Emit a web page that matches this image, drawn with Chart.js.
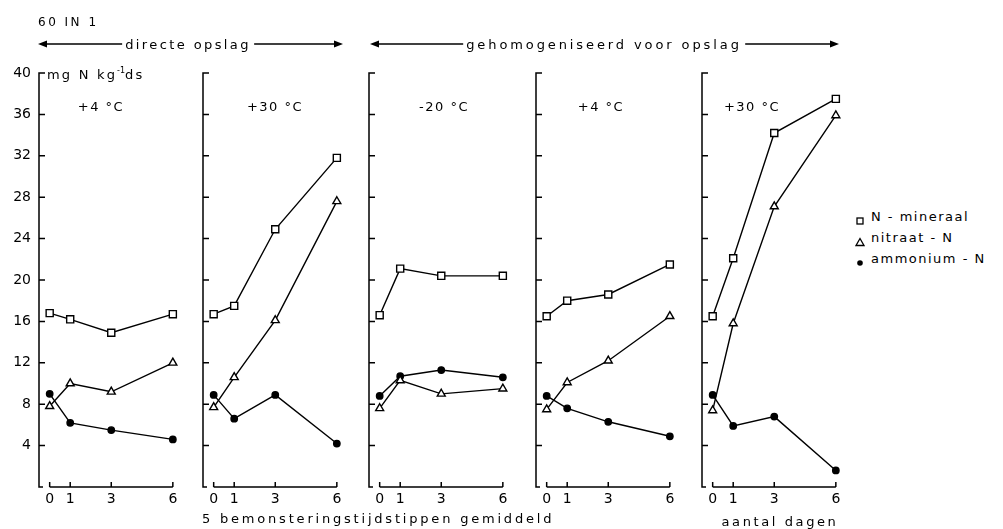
<!DOCTYPE html>
<html>
<head>
<meta charset="utf-8">
<script src="https://cdn.jsdelivr.net/npm/chart.js@4.4.0/dist/chart.umd.min.js"></script>
<style>
  html, body { margin: 0; padding: 0; background: #fff; }
  #wrap { position: relative; width: 1003px; height: 529px; overflow: hidden;
          font-family: 'DejaVu Sans', sans-serif; color: #000; }
  #wrap canvas { position: absolute; top: 0; }
  #wrap svg { position: absolute; left: 0; top: 0; }
  .lbl { position: absolute; white-space: nowrap; font-size: 13px; line-height: 1; letter-spacing: 2.5px; }
  .lbl sup { font-size: 8px; letter-spacing: 0; }
  .lbl svg { position: static; display: block; }
  .bg { background: #fff; padding: 0 3px; }
</style>
</head>
<body>
<div id="wrap">
  <svg width="1003" height="529">
    <g stroke="#000" stroke-width="1.5" fill="#000">
      <line x1="42" y1="44" x2="338" y2="44"/>
      <polygon points="38,44 47,40.5 47,47.5" stroke="none"/>
      <polygon points="343,44 334,40.5 334,47.5" stroke="none"/>
      <line x1="374" y1="44" x2="834" y2="44"/>
      <polygon points="370,44 379,40.5 379,47.5" stroke="none"/>
      <polygon points="839,44 830,40.5 830,47.5" stroke="none"/>
    </g>
  </svg>
</div>
<script>
// days after sampling (x ticks of every panel)
var days = [0, 1, 3, 6];
var yTicks = [4, 8, 12, 16, 20, 24, 28, 32, 36, 40];
var panelTitles = ['+4 °C', '+30 °C', '-20 °C', '+4 °C', '+30 °C'];
var seriesNames = ['N - mineraal', 'nitraat - N', 'ammonium - N'];

// mg N per kg ds, one row per panel
var nMineraal = [
    [16.8, 16.2, 14.9, 16.7],
    [16.7, 17.5, 24.9, 31.8],
    [16.6, 21.1, 20.4, 20.4],
    [16.5, 18.0, 18.6, 21.5],
    [16.5, 22.1, 34.2, 37.5]
];
var nitraatN = [
    [7.8, 10.0, 9.2, 12.0],
    [7.7, 10.6, 16.1, 27.6],
    [7.6, 10.3, 9.0, 9.5],
    [7.5, 10.1, 12.2, 16.5],
    [7.4, 15.8, 27.1, 35.9]
];
var ammoniumN = [
    [9.0, 6.2, 5.5, 4.6],
    [8.9, 6.6, 8.9, 4.2],
    [8.8, 10.7, 11.3, 10.6],
    [8.8, 7.6, 6.3, 4.9],
    [8.9, 5.9, 6.8, 1.6]
];

// where each panel's y axis sits
var panelAxisX = [39, 203, 369, 536, 702];
var yAxisWidth = 39;

Chart.defaults.font.family = "'DejaVu Sans', sans-serif";
Chart.defaults.font.size = 14;
Chart.defaults.color = '#000';

var wrap = document.getElementById('wrap');

function addLabel(html, x, y, align, cls) {
    var d = document.createElement('div');
    d.className = 'lbl' + (cls ? ' ' + cls : '');
    d.innerHTML = html;
    d.style.left = x + 'px';
    d.style.top = y + 'px';
    d.style.transform = align === 'center' ? 'translate(-50%,-50%)' : 'translate(0,-50%)';
    wrap.appendChild(d);
    return d;
}

// axis lines drawn by hand: inward ticks, baseline only from day 0 to 6
var frame = {
    id: 'frame',
    beforeDatasetsDraw: function(chart) {
        var ctx = chart.ctx;
        var x = chart.scales.x, y = chart.scales.y;
        var left = chart.chartArea.left;
        var bottom = y.getPixelForValue(0), top = y.getPixelForValue(40);
        ctx.save();
        ctx.strokeStyle = '#000';
        ctx.lineWidth = 1.5;
        ctx.beginPath();
        ctx.moveTo(left + 6, top);
        ctx.lineTo(left, top);
        ctx.lineTo(left, bottom);
        ctx.lineTo(left + 4, bottom);
        yTicks.forEach(function(v) {
            if (v >= 40) return;
            var py = y.getPixelForValue(v);
            ctx.moveTo(left, py);
            ctx.lineTo(left + 6, py);
        });
        ctx.moveTo(x.getPixelForValue(days[0]), bottom);
        ctx.lineTo(x.getPixelForValue(days[days.length - 1]), bottom);
        days.forEach(function(d) {
            var px = x.getPixelForValue(d);
            ctx.moveTo(px, bottom);
            ctx.lineTo(px, bottom - 5);
        });
        ctx.stroke();
        ctx.restore();
    }
};

function series(values, style, radius, fill) {
    return {
        data: days.map(function(d, k) { return { x: d, y: values[k] }; }),
        borderColor: '#000',
        borderWidth: 1.4,
        pointStyle: style,
        pointRadius: radius,
        pointBackgroundColor: fill,
        pointBorderColor: '#000',
        pointBorderWidth: 1.4,
        tension: 0,
        fill: false,
        clip: false
    };
}

panelAxisX.forEach(function(ax, i) {
    var cv = document.createElement('canvas');
    cv.width = 189;
    cv.height = 529;
    cv.style.left = (ax - yAxisWidth) + 'px';
    wrap.appendChild(cv);

    new Chart(cv, {
        type: 'line',
        data: {
            datasets: [
                series(nMineraal[i], 'rect', 5, '#fff'),
                series(nitraatN[i], 'triangle', 4.6, '#fff'),
                series(ammoniumN[i], 'circle', 3.2, '#000')
            ]
        },
        options: {
            responsive: false,
            animation: false,
            events: [],
            layout: { autoPadding: false, padding: { top: 73, right: 10, left: 0, bottom: 0 } },
            plugins: { legend: { display: false }, tooltip: { enabled: false } },
            scales: {
                x: {
                    type: 'linear',
                    min: -0.52,
                    max: 6.3,
                    grid: { display: false, drawTicks: false },
                    border: { display: false },
                    afterBuildTicks: function(s) { s.ticks = days.map(function(v) { return { value: v }; }); },
                    afterFit: function(s) { s.height = 42; },
                    ticks: { padding: 4, maxRotation: 0, autoSkip: false }
                },
                y: {
                    min: 0,
                    max: 40,
                    grid: { display: false, drawTicks: false },
                    border: { display: false },
                    afterBuildTicks: function(s) { s.ticks = yTicks.map(function(v) { return { value: v }; }); },
                    afterFit: function(s) { s.width = yAxisWidth; },
                    ticks: { display: i === 0, padding: 8 }
                }
            }
        },
        plugins: [frame]
    });

    addLabel(panelTitles[i], [101, 275, 444, 601, 752][i], 106, 'center').style.letterSpacing = '1.5px';
});

// headings and axis captions
var l = addLabel('60 IN 1', 38, 22, 'left');
l.style.fontSize = '12px';
addLabel('directe opslag', 188, 44, 'center', 'bg').style.letterSpacing = '2.4px';
addLabel('gehomogeniseerd voor opslag', 604, 44, 'center', 'bg').style.letterSpacing = '2.9px';
addLabel('mg N kg<sup>-1</sup>ds', 47, 74, 'left').style.letterSpacing = '2.2px';
addLabel('5 bemonsteringstijdstippen gemiddeld', 202, 518, 'left').style.letterSpacing = '2.8px';
addLabel('aantal dagen', 780, 521, 'center').style.letterSpacing = '2.6px';

// legend
var legendMarks = [
    '<svg width="10" height="10"><rect x="2" y="2" width="6" height="6" fill="#fff" stroke="#000" stroke-width="1.3"/></svg>',
    '<svg width="10" height="10"><polygon points="5,1.5 9,8.5 1,8.5" fill="#fff" stroke="#000" stroke-width="1.3"/></svg>',
    '<svg width="10" height="10"><circle cx="5" cy="5" r="2.8" fill="#000"/></svg>'
];
seriesNames.forEach(function(name, k) {
    var y = 216 + k * 21;
    addLabel(legendMarks[k], 855, y, 'left');
    addLabel(name, 871, y, 'left').style.letterSpacing = '1.5px';
});
</script>
</body>
</html>
